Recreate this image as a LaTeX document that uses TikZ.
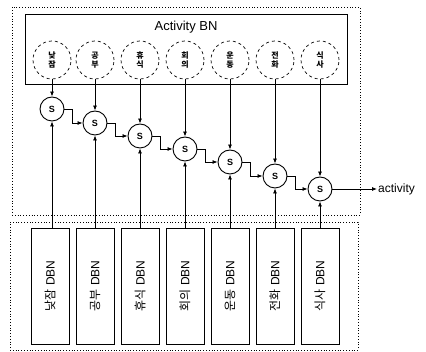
\documentclass[tikz,border=0pt]{standalone}
\usepackage{fontspec}
\setmainfont{Liberation Sans}
\newfontfamily\kr{Noto Sans CJK KR}
\usetikzlibrary{arrows.meta}
\begin{document}
\begin{tikzpicture}[x=1pt,y=-1pt,
  dotbox/.style={draw, dotted, line width=0.8pt, inner sep=0, outer sep=0},
  solidbox/.style={draw, line width=0.8pt, inner sep=0, outer sep=0},
  bnnode/.style={draw, dashed, circle, line width=0.7pt, minimum size=38pt, inner sep=0, align=center, font=\kr\fontsize{8}{9.5}\selectfont\bfseries},
  snode/.style={draw, circle, line width=0.9pt, minimum size=24pt, inner sep=0, font=\fontsize{9}{10}\selectfont\bfseries},
  dbn/.style={draw, line width=0.8pt, minimum width=38pt, minimum height=116pt, inner sep=0, outer sep=0},
  dbnlabel/.style={rotate=90, font=\fontsize{12}{14}\selectfont},
  arr/.style={-{Latex[length=5pt,width=4pt]}, line width=0.8pt},
]
\useasboundingbox (0,0) rectangle (426,352);
\node[dotbox, minimum width=348pt, minimum height=208pt] (upper) at (186,111) {};
\node[dotbox, minimum width=348pt, minimum height=128pt] (lower) at (184,286) {};
\node[solidbox, minimum width=322pt, minimum height=70pt] (bn) at (186,49) {};
\node[font=\fontsize{13}{15}\selectfont] (title) at (186,27) {Activity BN};
% BN nodes
\node[bnnode] (c1) at (52,60) {낮\\잠};
\node[bnnode] (c2) at (95,60) {공\\부};
\node[bnnode] (c3) at (140,60) {휴\\식};
\node[bnnode] (c4) at (185,60) {회\\의};
\node[bnnode] (c5) at (230,60) {운\\동};
\node[bnnode] (c6) at (275,60) {전\\화};
\node[bnnode] (c7) at (320,60) {식\\사};
% S nodes
\node[snode] (s1) at (52,109) {S};
\node[snode] (s2) at (95,123) {S};
\node[snode] (s3) at (140,136) {S};
\node[snode] (s4) at (185,149) {S};
\node[snode] (s5) at (230,162) {S};
\node[snode] (s6) at (275,176) {S};
\node[snode] (s7) at (320,189) {S};
% DBN boxes
\node[dbn] (d1) at (50,286) {};
\node[dbn] (d2) at (95,286) {};
\node[dbn] (d3) at (140,286) {};
\node[dbn] (d4) at (185,286) {};
\node[dbn] (d5) at (230,286) {};
\node[dbn] (d6) at (275,286) {};
\node[dbn] (d7) at (320,286) {};
\node[dbnlabel] at (d1) {{\kr 낮잠} DBN};
\node[dbnlabel] at (d2) {{\kr 공부} DBN};
\node[dbnlabel] at (d3) {{\kr 휴식} DBN};
\node[dbnlabel] at (d4) {{\kr 회의} DBN};
\node[dbnlabel] at (d5) {{\kr 운동} DBN};
\node[dbnlabel] at (d6) {{\kr 전화} DBN};
\node[dbnlabel] at (d7) {{\kr 식사} DBN};
\node[anchor=west, inner sep=1pt, font=\fontsize{12}{14}\selectfont] (act) at (377,189) {activity};
% connectors
\foreach \i in {1,...,7} {
  \draw[arr] (c\i.south) -- (s\i.north);
  \draw[arr] (d\i.north -| s\i) -- (s\i.south);
}
\foreach \i/\j in {1/2,2/3,3/4,4/5,5/6,6/7} {
  \draw[arr] (s\i.east) -- ++(8,0) |- (s\j.west);
}
\draw[arr] (s7.east) -- (act.west);
\end{tikzpicture}
\end{document}
